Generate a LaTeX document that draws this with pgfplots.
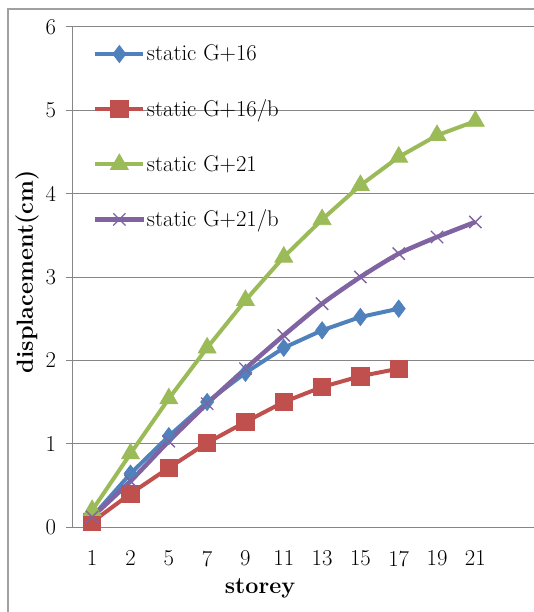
\documentclass[border=0pt]{standalone}
\usepackage{pgfplots}
\pgfplotsset{compat=1.18}
\definecolor{cblue}{HTML}{4F81BD}
\definecolor{cred}{HTML}{C0504D}
\definecolor{cgreen}{HTML}{9BBB59}
\definecolor{cpurple}{HTML}{8064A2}
\definecolor{gridgray}{HTML}{868686}
\definecolor{framegray}{HTML}{A0A0A0}
\begin{document}
\begin{tikzpicture}
\path[use as bounding box] (0pt,0pt) rectangle (400.5pt,459pt);
\draw[framegray, line width=0.9pt] (6pt,-5pt) -- (6pt,452.25pt) -- (410pt,452.25pt);
\begin{axis}[
  at={(54.75pt,63.75pt)}, anchor=south west,
  scale only axis, width=345.75pt, height=375pt,
  xmin=-0.5, xmax=11.53, ymin=0, ymax=6,
  xtick={0,...,10}, xticklabels={1,2,5,7,9,11,13,15,17,19,21},
  ytick={0,...,6},
  ymajorgrids, major grid style={color=gridgray, line width=0.75pt},
  axis x line*=bottom, axis y line*=left,
  axis line style={gridgray, line width=0.75pt, -},
  x tick style={draw=none}, y tick style={gridgray, line width=0.75pt},
  tick align=outside, major tick length=5.25pt,
  tick label style={font=\fontsize{17}{20}\selectfont},
  /pgf/number format/assume math mode=true,
  yticklabel style={xshift=-4pt},
  xticklabel style={yshift=-9pt},
  xlabel={\textbf{storey}}, ylabel={\textbf{displacement(cm)}},
  label style={font=\fontsize{17.5}{20}\selectfont},
  xlabel style={at={(axis description cs:0.4056,-0.122)}, anchor=center},
  ylabel style={at={(axis description cs:-0.0998,0.51)}, anchor=center, rotate=0},
  clip=false,
  legend cell align=left,
  legend style={draw=none, fill=none, at={(axis description cs:0.043,0.967)}, anchor=north west,
    font=\fontsize{17}{20}\selectfont, row sep=25.5pt, inner sep=0pt,
    nodes={inner sep=1pt}},
  legend image code/.code={\draw[mark repeat=2,mark phase=2] plot coordinates {(0pt,0pt) (18pt,0pt) (36pt,0pt)};},
  every axis plot/.append style={line width=3pt},
]
\addplot[cblue, mark=diamond*, mark size=6.5pt, mark options={solid, line width=0.5pt}]
  coordinates {(0,0.12) (1,0.64) (2,1.09) (3,1.50) (4,1.85) (5,2.15) (6,2.36) (7,2.52) (8,2.62)};
\addlegendentry{static G+16}
\addplot[cred, mark=square*, mark size=6.5pt, mark options={solid, line width=0.5pt}]
  coordinates {(0,0.06) (1,0.40) (2,0.71) (3,1.01) (4,1.26) (5,1.50) (6,1.68) (7,1.81) (8,1.90)};
\addlegendentry{static G+16/b}
\addplot[cgreen, mark=triangle*, mark size=7.8pt, mark options={solid, line width=0.5pt}]
  coordinates {(0,0.20) (1,0.88) (2,1.54) (3,2.15) (4,2.72) (5,3.24) (6,3.69) (7,4.10) (8,4.44) (9,4.70) (10,4.87)};
\addlegendentry{static G+21}
\addplot[cpurple, line width=3.4pt, smooth, tension=0.4, mark=x, mark size=6.5pt, mark options={solid, line width=1pt}]
  coordinates {(0,0.12) (1,0.55) (2,1.03) (3,1.48) (4,1.90) (5,2.30) (6,2.68) (7,3.00) (8,3.28) (9,3.48) (10,3.66)};
\addlegendentry{static G+21/b}
\end{axis}
\end{tikzpicture}
\end{document}
